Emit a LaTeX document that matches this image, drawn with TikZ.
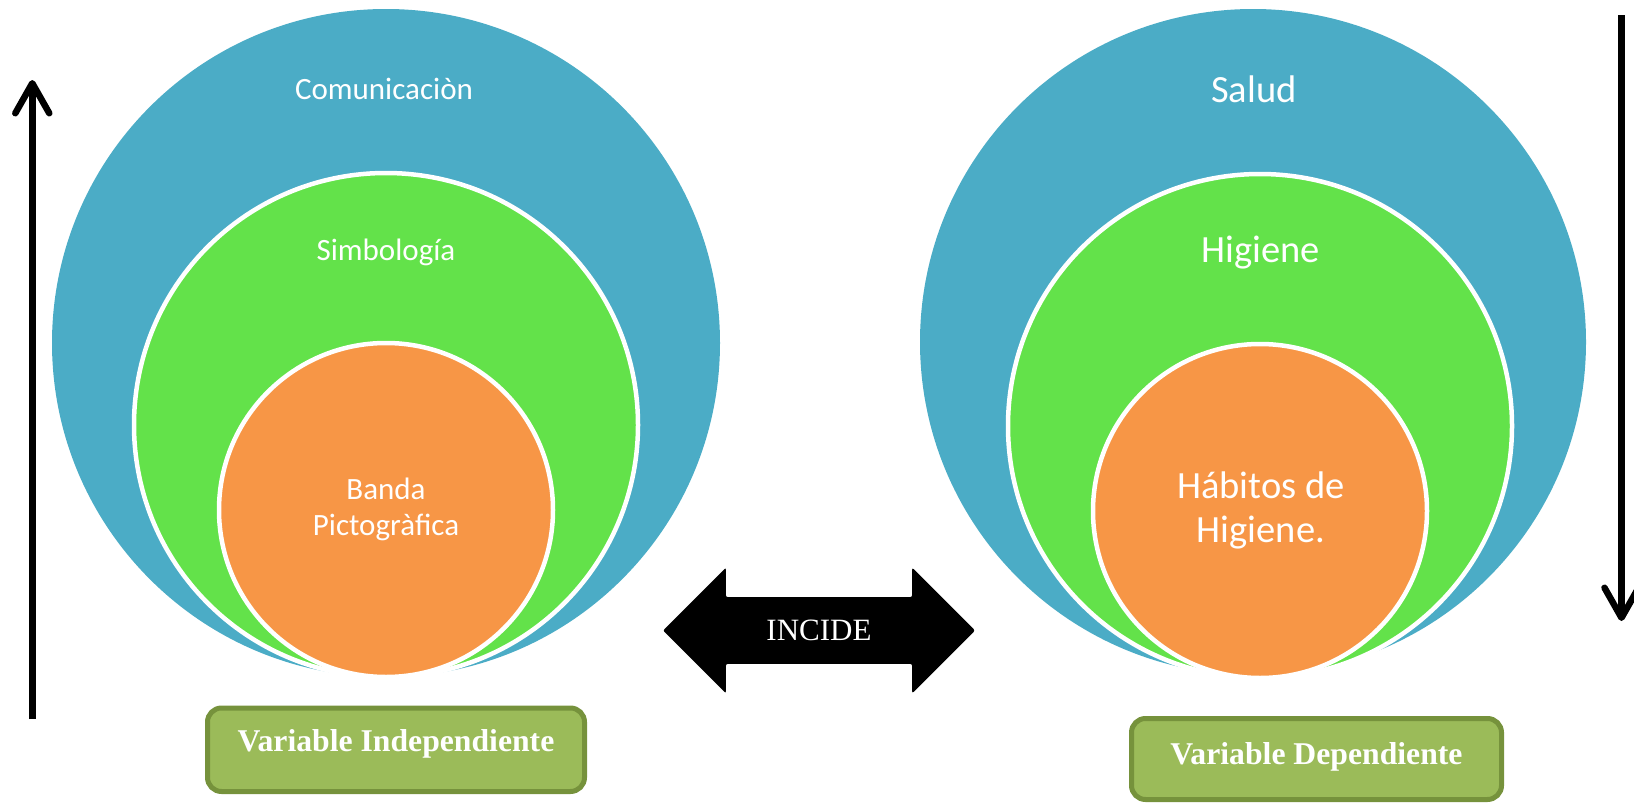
\documentclass[tikz,border=0pt]{standalone}
\usepackage{fontspec}
\setmainfont{Carlito}
\newfontfamily\timesfont{Liberation Serif}
\usetikzlibrary{shapes.arrows,arrows.meta}
\definecolor{azul}{HTML}{4BACC6}
\definecolor{verde}{HTML}{63E24A}
\definecolor{naranja}{HTML}{F79646}
\definecolor{oliva}{HTML}{9BBB59}
\definecolor{olivo}{HTML}{76923C}

\begin{document}
\begin{tikzpicture}[x=1pt, y=-1pt, node distance={82pt},
  anillo/.style = {circle, inner sep=0pt},
  interior/.style = {anillo, draw=white, line width=4.5pt},
  chico/.style = {text=white, align=center, font=\fontsize{31}{36}\selectfont},
  grande/.style = {text=white, align=center, font=\fontsize{38.5}{44}\selectfont},
  caja/.style = {draw=olivo, fill=oliva, line width=5pt, rounded corners=14pt, text=white, text height=21pt, font=\timesfont\bfseries\fontsize{31.7}{36}\selectfont},
  flecha/.style = {line width=6.5pt, -{Straight Barb[round, length=30pt, width=34pt]}},
  doble/.style = {double arrow, fill=black, text=white, inner xsep=4pt, inner ysep=22.75pt, double arrow head extend=29.5pt, double arrow tip angle=90, minimum height=312pt, rounded corners=2pt, font=\timesfont\fontsize{31}{36}\selectfont}]
\useasboundingbox (0,0) rectangle (1634,803);
\node[anillo, fill=azul, minimum size=668pt] (1) at (386,343) {};
\node[interior, fill=verde, minimum size=504pt] (2) [below of=1] {};
\node[interior, fill=naranja, minimum size=334pt] (3) [below of=2, node distance=85pt] {};
\node[chico] (c) at (384,89) {Comunicaciòn};
\node[chico] (s) at (386,252) {Simbología};
\node[chico] (b) at (386,509) {Banda\\Pictogràfica};
\node[anillo, fill=azul, minimum size=666pt] (4) at (1253,342) {};
\node[interior, fill=verde, minimum size=504pt] (5) at (1260,426) {};
\node[interior, fill=naranja, minimum size=334pt] (6) [below of=5, node distance=85pt] {};
\node[grande] (sa) at (1254,89) {Salud};
\node[grande] (hi) at (1261,253) {Higiene};
\node[grande] (ha) at (1261,510) {Hábitos de\\Higiene.};
\node[doble] (incide) at (819,630.5) {INCIDE};
\node[caja, minimum width=377pt, minimum height=83.5pt, text depth=17pt] (vi) at (396,749.75) {Variable Independiente};
\node[caja, minimum width=370pt, minimum height=81pt, text depth=11pt] (vd) at (1316.5,759) {Variable Dependiente};
\coordinate (a1) at (32.3,719);
\coordinate (a2) at (32.3,80);
\coordinate (a3) at (1621.5,15);
\coordinate (a4) at (1621.5,621);
\draw[flecha] (a1) -- (a2);
\draw[flecha] (a3) -- (a4);
\end{tikzpicture}
\end{document}
